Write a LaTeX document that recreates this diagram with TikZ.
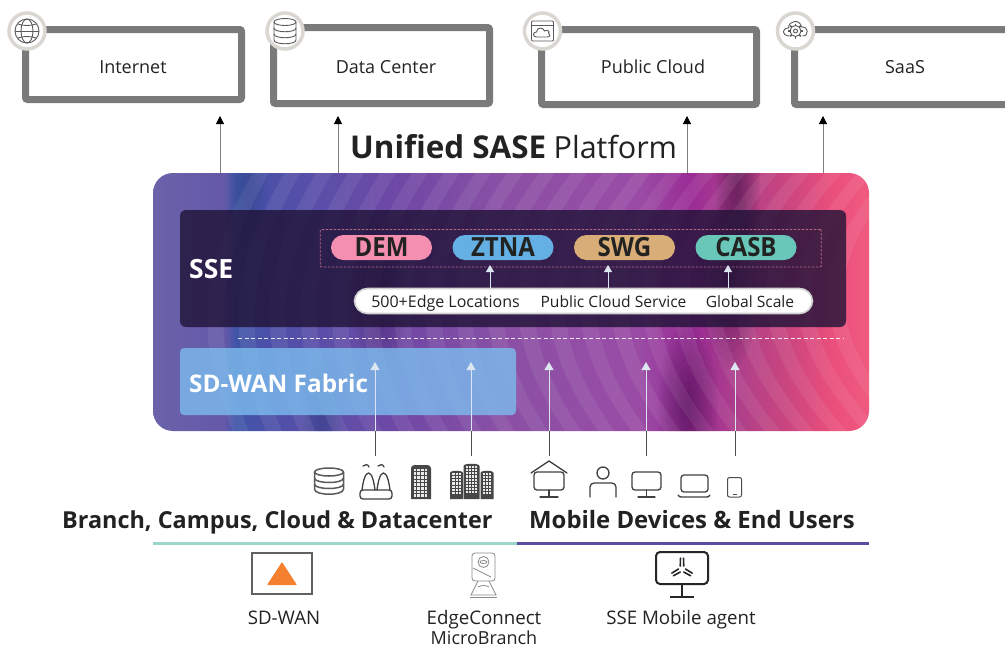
\documentclass[tikz,border=0pt]{standalone}
\usepackage{fontspec}
\setmainfont{Open Sans}
\usetikzlibrary{arrows.meta,shapes.geometric}
\definecolor{pa}{HTML}{6A62AA}
\definecolor{pb}{HTML}{6458A8}
\definecolor{pc}{HTML}{3F55A8}
\definecolor{pd}{HTML}{4C50A8}
\definecolor{pe}{HTML}{5E4EA8}
\definecolor{pf}{HTML}{7048A5}
\definecolor{pg}{HTML}{8A50A5}
\definecolor{ph}{HTML}{9A4CA5}
\definecolor{pi}{HTML}{9A2C96}
\definecolor{pj}{HTML}{B0408A}
\definecolor{pk}{HTML}{C8457F}
\definecolor{pl}{HTML}{EA4F7B}
\definecolor{pm}{HTML}{F05A80}
\pgfdeclarehorizontalshading{panelshade}{100bp}{
 color(0bp)=(pa);
 color(25bp)=(pa);
 color(30bp)=(pb);
 color(30.8bp)=(pc);
 color(33bp)=(pd);
 color(37.5bp)=(pe);
 color(42.5bp)=(pf);
 color(49.5bp)=(pg);
 color(59bp)=(ph);
 color(62.5bp)=(pi);
 color(66bp)=(pj);
 color(69bp)=(pk);
 color(72.5bp)=(pl);
 color(75bp)=(pm);
 color(100bp)=(pm)}
\definecolor{boxgray}{HTML}{7A7A7A}
\definecolor{ringgray}{HTML}{DAD7D3}
\definecolor{icongray}{HTML}{5A5A5A}
\definecolor{inkblack}{HTML}{222222}
\definecolor{ssedark}{HTML}{1F1236}
\definecolor{pillpink}{HTML}{F48FB1}
\definecolor{pillblue}{HTML}{64B0E4}
\definecolor{pilltan}{HTML}{D8AD78}
\definecolor{pillteal}{HTML}{68C7B8}
\definecolor{fabric}{HTML}{7CBCEE}
\definecolor{tealline}{HTML}{9AD8CC}
\definecolor{purpleline}{HTML}{5A4EA0}
\definecolor{triorange}{HTML}{F58030}
\definecolor{lightarrow}{HTML}{DCE6F0}
\definecolor{darkplum}{HTML}{2E0A38}
\tikzset{
 x=1pt,y=-1pt,
 sitebox/.style={draw=boxgray,line width=7pt,fill=white,rounded corners=2pt,inner sep=0pt,outer sep=0pt},
 sitetext/.style={anchor=base,text=inkblack,font=\fontsize{18}{20}\selectfont,inner sep=0pt},
 ring/.style={circle,draw=ringgray,line width=3.5pt,fill=white,minimum size=36pt,inner sep=0pt},
 iconline/.style={draw=icongray,line width=.9pt},
 upblack/.style={draw=black!50,line width=.8pt,-{Triangle[length=8pt,width=8pt,color=black]}},
 uplight/.style={draw=lightarrow,line width=.9pt,-{Triangle[length=8pt,width=9pt,color=lightarrow]}},
 stem/.style={draw=black!70,line width=.9pt},
 pill/.style={rounded corners=12.5pt,minimum width=101pt,minimum height=25pt,inner sep=0pt},
 pilltext/.style={anchor=base,text=inkblack,font=\fontsize{24}{26}\bfseries\selectfont,inner sep=0pt},
 bartext/.style={anchor=base,text=inkblack,font=\fontsize{15.6}{17}\selectfont,inner sep=0pt},
 captext/.style={anchor=base,text=inkblack,font=\fontsize{18.7}{20}\selectfont,inner sep=0pt},
 devline/.style={draw=black!75,line width=1.3pt,line cap=round,line join=round},
}
\begin{document}
\begin{tikzpicture}
\useasboundingbox (0,0) rectangle (1005,646);
\fill[white] (0,0) rectangle (1005,646);

% Site boxes
\node[sitebox,minimum width=216pt,minimum height=70pt] (internet) at (133.5,64.5) {};
\node[sitebox,minimum width=216pt,minimum height=76pt] (datacenter) at (381.5,65.5) {};
\node[sitebox,minimum width=215pt,minimum height=75pt] (publiccloud) at (649,67) {};
\draw[draw=boxgray,line width=7pt,rounded corners=2pt] (1005,29.5) -- (794.5,29.5) -- (794.5,104.5) -- (1005,104.5);
\node[sitetext] (internettext) at (133,73) {Internet};
\node[sitetext] (datacentertext) at (386,73) {Data Center};
\node[sitetext] (publiccloudtext) at (653,73) {Public Cloud};
\node[sitetext] (saastext) at (905,73) {SaaS};

% Badges
\node[ring] (ringa) at (27,31) {};
\node[ring] (ringb) at (285,31) {};
\node[ring] (ringc) at (542.5,31) {};
\node[ring] (ringd) at (795.5,31) {};
% globe
\begin{scope}[shift={(27,31)}]
 \draw[iconline] (0,0) circle (12);
 \draw[iconline] (0,0) ellipse (6 and 12);
 \draw[iconline] (-12,0) -- (12,0);
 \draw[iconline] (-9,-7) .. controls (-4,-5) and (4,-5) .. (9,-7);
 \draw[iconline] (-9,7) .. controls (-4,5) and (4,5) .. (9,7);
\end{scope}
% database
\begin{scope}[shift={(285,31)}]
 \draw[iconline] (0,-9) ellipse (11 and 3.5);
 \draw[iconline] (-11,-9) -- (-11,9) .. controls (-11,14) and (11,14) .. (11,9) -- (11,-9);
 \draw[iconline] (-11,-3) .. controls (-11,2) and (11,2) .. (11,-3);
 \draw[iconline] (-11,3) .. controls (-11,8) and (11,8) .. (11,3);
\end{scope}
% cloud window
\begin{scope}[shift={(542.5,31)}]
 \draw[iconline,rounded corners=1pt] (-11,-10) rectangle (11,10);
 \draw[iconline] (-11,-6) -- (11,-6);
 \draw[iconline] (-6,6) .. controls (-10,6) and (-10,1) .. (-6,1) .. controls (-6,-4) and (1,-4) .. (2,0) .. controls (5,-2) and (8,1) .. (6,2) .. controls (8,3) and (8,6) .. (5,6) -- cycle;
\end{scope}
% cloud gear
\begin{scope}[shift={(795.5,31)}]
 \draw[iconline] (-6,5) .. controls (-14,5) and (-14,-3) .. (-7,-3) .. controls (-7,-11) and (5,-12) .. (6,-4) .. controls (13,-5) and (14,5) .. (7,5);
 \foreach \a in {0,45,...,315} \draw[iconline,line width=1.5pt] (\a:5) -- (\a:7.5);
 \draw[iconline] (0,0) circle (5.5);
 \draw[iconline] (0,0) circle (2);
\end{scope}

% Platform panel
\begin{scope}
 \path[clip,rounded corners=20pt] (153,173) rectangle (869,431);
 \path[shading=panelshade,shading angle=0] (153,173) rectangle (869,431);
 % soft colour blobs
 \foreach \r in {1,...,10} {
  \fill[pc!80!black,opacity=.07] (322,415) ellipse (\r*2 and \r*6);
  \fill[pc!80!black,opacity=.05] (248,190) ellipse (\r*2 and \r*6);
  \fill[darkplum,opacity=.055] (688,405) ellipse (\r*3 and \r*8);
  \fill[darkplum,opacity=.06] (738,185) ellipse (\r*2.2 and \r*7);
  \fill[darkplum,opacity=.05] (730,280) ellipse (\r*3 and \r*9);
  \fill[darkplum,opacity=.04] (380,290) ellipse (\r*3 and \r*8);
 }
 % contour bands
 \foreach \x in {232,264,...,900} {
  \pgfmathsetmacro{\k}{(\x-232)/668}
  \pgfmathsetmacro{\lo}{\x-45-35*\k}
  \pgfmathsetmacro{\ba}{\x+5+30*\k}
  \fill[white,opacity=.07] (\x+25,165) .. controls (\lo+25,245) and (\lo-5,320) .. (\ba,440)
   -- (\ba+16,440) .. controls (\lo+11,320) and (\lo+41,245) .. (\x+41,165) -- cycle;
 }
\end{scope}
\node[draw=none,minimum width=716pt,minimum height=258pt,inner sep=0pt,outer sep=0pt] (platform) at (511,302) {};

% SSE panel
\node[fill=ssedark,fill opacity=.8,rounded corners=6pt,minimum width=666pt,minimum height=117pt,inner sep=0pt,outer sep=0pt] (ssepanel) at (513,268.5) {};
\node[anchor=base west,text=white,font=\fontsize{26.5}{28}\bfseries\selectfont,inner sep=0pt] (ssetext) at (189,278) {SSE};

% services
\node[draw=pillpink!75!black,line width=.8pt,dash pattern=on 2.5pt off 1.5pt,minimum width=501pt,minimum height=37.5pt,inner sep=0pt,rounded corners=1pt] (servicegroup) at (570.75,248.25) {};
\node[pill,fill=pillpink] (dem) at (381.5,247.5) {};
\node[pill,fill=pillblue] (ztna) at (503,247.5) {};
\node[pill,fill=pilltan] (swg) at (624.5,247.5) {};
\node[pill,fill=pillteal] (casb) at (746,247.5) {};
\node[pilltext] (demtext) at (381.5,256.8) {\scalebox{1}[1.1]{DEM}};
\node[pilltext] (ztnatext) at (503,256.8) {\scalebox{1}[1.1]{ZTNA}};
\node[pilltext] (swgtext) at (624.5,256.8) {\scalebox{1}[1.1]{SWG}};
\node[pilltext] (casbtext) at (746,256.8) {\scalebox{1}[1.1]{CASB}};

% white bar
\node[fill=white,draw=black!18,line width=1.6pt,rounded corners=13pt,minimum width=458pt,minimum height=25pt,inner sep=0pt,outer sep=0pt] (bar) at (583.5,301) {};
\node[bartext,font=\fontsize{16}{17}\selectfont] (edge) at (445.5,307) {500+Edge Locations};
\node[bartext] (cloudsvc) at (613.5,307) {Public Cloud Service};
\node[bartext] (scale) at (750,307) {Global Scale};
\foreach \n/\x in {a/490,b/608,c/728} {
 \coordinate (bar\n) at (\x,288);
 \coordinate (tip\n) at (\x,265);
 \draw[draw=lightarrow,line width=.8pt,-{Triangle[length=7pt,width=8pt,color=lightarrow]}] (bar\n) -- (tip\n);
}

% dashed divider
\coordinate (dashl) at (238,338);
\coordinate (dashr) at (843,338);
\draw[white,line width=.9pt,dash pattern=on 4pt off 2.5pt,opacity=.85] (dashl) -- (dashr);

% fabric
\node[fill=fabric,fill opacity=.8,rounded corners=4pt,minimum width=336pt,minimum height=67pt,inner sep=0pt,outer sep=0pt] (fabricbox) at (348,381.5) {};
\node[anchor=base west,text=white,font=\fontsize{24.3}{28}\bfseries\selectfont,inner sep=0pt] (fabrictext) at (189,392) {SD-WAN Fabric};

% Arrows out of the panel
\foreach \n/\x in {p/220,q/338,r/687,s/823} {
 \coordinate (from\n) at (\x,173);
 \coordinate (to\n) at (\x,116);
 \draw[upblack] (from\n) -- (to\n);
}
% Arrows into the panel
\foreach \n/\x in {u/375,v/471,w/549,y/646,z/735} {
 \coordinate (start\n) at (\x,456);
 \coordinate (edge\n) at (\x,431);
 \coordinate (end\n) at (\x,362);
 \draw[stem] (start\n) -- (edge\n);
 \draw[uplight] (edge\n) -- (end\n);
}

% Title
\node[anchor=base west,text=inkblack,font=\fontsize{31.4}{36}\bfseries\selectfont,inner sep=0pt] (titlea) at (350,158) {Unified SASE};
\node[anchor=base west,text=inkblack,font=\fontsize{30.5}{36}\selectfont,inner sep=0pt] (titleb) at (553.5,158) {Platform};

% Lower icons
\begin{scope}[shift={(329,482)}]
 \draw[iconline,line width=1.5pt] (0,-10) ellipse (14.5 and 4);
 \draw[iconline,line width=1.5pt] (-14.5,-10) -- (-14.5,7) .. controls (-14.5,14) and (14.5,14) .. (14.5,7) -- (14.5,-10);
 \draw[iconline,line width=1.5pt] (-14.5,-4) .. controls (-14.5,2) and (14.5,2) .. (14.5,-4);
 \draw[iconline,line width=1.5pt] (-14.5,2) .. controls (-14.5,8) and (14.5,8) .. (14.5,2);
\end{scope}
\begin{scope}[shift={(376,482)}]
 \draw[devline,rounded corners=3pt] (-16,8) rectangle (16,17);
 \draw[devline] (-14,8) .. controls (-13,0) and (-11,-9) .. (-7.5,-9) .. controls (-4,-9) and (-2,0) .. (-1,8);
 \draw[devline] (1,8) .. controls (2,0) and (4,-9) .. (7.5,-9) .. controls (11,-9) and (13,0) .. (14,8);
 \draw[devline] (-13,-16) .. controls (-11,-18) and (-8,-18) .. (-7,-15);
 \draw[devline] (2,-16) .. controls (4,-18) and (7,-18) .. (8,-15);
\end{scope}
\fill[black!72] (411,499) -- (411,468) .. controls (411,466) and (413,465) .. (415,465) -- (427,465) .. controls (429,465) and (431,466) .. (431,468) -- (431,499) -- cycle;
\foreach \i in {0,...,3} \foreach \j in {0,...,7}
 \fill[white!92!black] (413.6+\i*3.7,468.5+\j*3.7) rectangle ++(2.7,2.7);
\foreach \cx/\w/\top/\co/\st in {456.5/13/470/2/3.1,471.5/16/463/3/3.1,487/13/470/2/3.1} {
 \fill[black!72] (\cx-\w/2,499) -- (\cx-\w/2,\top+3) .. controls (\cx-\w/2,\top) and (\cx+\w/2,\top) .. (\cx+\w/2,\top+3) -- (\cx+\w/2,499) -- cycle;
 \foreach \i in {0,...,\co} {
  \pgfmathsetmacro{\nr}{int((499-\top-5)/3.1)}
  \foreach \j in {1,...,\nr}
   \fill[white!92!black] (\cx-\co*1.55-1+\i*\st,\top+\j*3.1) rectangle ++(2.1,2.1);
 }
}
% home monitor
\draw[devline] (531,473) -- (549,461) -- (567,473);
\draw[devline,rounded corners=3pt] (534,472) rectangle (564,490);
\draw[devline] (549,490) -- (549,496);
\draw[devline] (540,497) -- (558,497);
% person
\draw[devline] (603,473) circle (6);
\draw[devline,rounded corners=4pt] (590,497) -- (590,483) -- (616,483) -- (616,497);
% monitor
\draw[devline,rounded corners=3pt] (632,472) rectangle (661,490);
\draw[devline] (646.5,490) -- (646.5,496);
\draw[devline] (638,497) -- (655,497);
% laptop
\draw[devline,rounded corners=3pt] (681,475) -- (708,475) -- (708,492) -- (681,492) -- cycle;
\draw[devline] (678,495) .. controls (679,497) and (680,497) .. (682,497) -- (706,497) .. controls (708,497) and (709,497) .. (710,495);
% phone
\draw[draw=black!70,line width=1pt,rounded corners=2pt] (727.5,477.5) rectangle (741.5,497);
\draw[draw=black!70,line width=1pt] (732.5,494.5) -- (736.5,494.5);

% Group labels
\node[anchor=base west,text=inkblack,font=\fontsize{23.4}{28}\bfseries\selectfont,inner sep=0pt] (branchtext) at (62,528) {Branch, Campus, Cloud \& Datacenter};
\node[anchor=base west,text=inkblack,font=\fontsize{23.9}{28}\bfseries\selectfont,inner sep=0pt] (mobiletext) at (529,528) {Mobile Devices \& End Users};
\coordinate (linea) at (153,543.5);
\coordinate (lineb) at (517,543.5);
\coordinate (linec) at (869,543.5);
\draw[tealline,line width=2.5pt] (linea) -- (lineb);
\draw[purpleline,line width=2.5pt] (lineb) -- (linec);

% SD-WAN icon
\node[draw=black!62,line width=2pt,fill=white,minimum width=60pt,minimum height=41pt,inner sep=0pt] (sdwanicon) at (282,573.5) {};
\fill[triorange,rounded corners=.8pt] (267,585) -- (297,585) -- (282,562) -- cycle;
% MicroBranch device
\begin{scope}[draw=black!45,line width=.8pt]
 \draw[rounded corners=3pt] (472,553) -- (495,553) -- (495,581) -- (472,581) -- cycle;
 \draw (483.5,562) circle (5.5);
 \draw (483.5,562) ellipse (3.5 and 1.5);
 \draw (473,568) -- (491,577);
 \draw (478,581) -- (471,595) -- (496,595) -- (489,581);
 \draw (470,597) -- (497,597);
 \draw (478,587) .. controls (482,585) and (486,585) .. (489,587);
\end{scope}
% Mobile agent icon
\draw[draw=black!85,line width=2pt,rounded corners=4pt] (656,552) rectangle (708,584);
\draw[draw=black!85,line width=2pt] (682,584) -- (682,596);
\draw[draw=black!85,line width=2pt] (670,596.5) -- (694,596.5);
\begin{scope}[shift={(682,569)}]
 \foreach \t in {270,30,150} {
  \draw[black!85,line width=1.6pt,line cap=round] (\t+30:3.5) -- (\t+8:11);
  \draw[black!85,line width=1.6pt,line cap=round] (\t-30:3.5) -- (\t-8:11);
 }
\end{scope}

% Captions
\node[captext] (capa) at (284,624) {SD-WAN};
\node[captext] (capb) at (484,624) {EdgeConnect};
\node[captext,font=\fontsize{18}{20}\selectfont] (capc) at (484,644) {MicroBranch};
\node[captext] (capd) at (681,624) {SSE Mobile agent};
\end{tikzpicture}
\end{document}
